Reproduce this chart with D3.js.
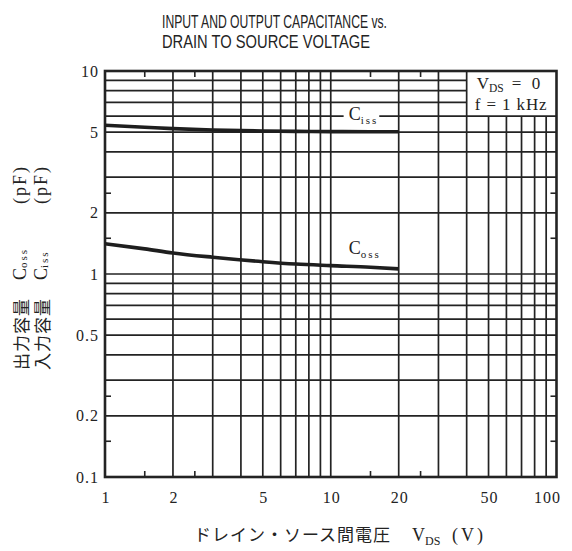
<!DOCTYPE html>
<html><head><meta charset="utf-8">
<script src="https://cdn.jsdelivr.net/npm/d3@7"></script>
<style>body{margin:0;background:#fff}svg{display:block}</style>
</head><body>
<script>
// ---- data ----
const titleLines = ["INPUT AND OUTPUT CAPACITANCE vs.", "DRAIN TO SOURCE VOLTAGE"];
const vds  = [1, 1.5, 2, 3, 5, 7, 10, 15, 20];
const ciss = [5.40, 5.28, 5.20, 5.12, 5.06, 5.04, 5.03, 5.02, 5.02];
const coss = [1.41, 1.33, 1.27, 1.21, 1.15, 1.12, 1.10, 1.08, 1.06];
const xTickLabels = [1, 2, 5, 10, 20, 50, 100];
const yTickLabels = [0.1, 0.2, 0.5, 1, 2, 5, 10];
const xGridValues = [2,3,4,5,6,7,8,9,10,20,30,40,50,60,70,80,90];
const yGridValues = [0.2,0.3,0.4,0.5,0.6,0.7,0.8,0.9,1,2,3,4,5,6,7,8,9];
const xMinor = [1.5, 2.5, 15, 25];
const yMinor = [0.15, 0.25, 1.5, 2.5];
const legendBoxX = [40, 100];
const legendBoxY = [6, 10];
const legendLines = ["V_DS = 0", "f = 1 kHz"];

// ---- drawing ----
const W = 572, H = 551;
const ink = "#232323";
const serif = "Liberation Serif, Times New Roman, serif";
const cjk = "Noto Sans CJK JP, sans-serif";
const svg = d3.select("body").append("svg").attr("width", W).attr("height", H);
svg.append("rect").attr("width", W).attr("height", H).attr("fill", "#fff");

const x = d3.scaleLog().domain([1, 100]).range([105, 556.5]);
const y = d3.scaleLog().domain([0.1, 10]).range([477, 71]);

// title
svg.selectAll("text.title").data(titleLines).join("text")
  .attr("x", 162).attr("y", (d, i) => 27.5 + i * 20)
  .attr("textLength", (d, i) => i === 0 ? 225 : 208)
  .attr("lengthAdjust", "spacingAndGlyphs")
  .attr("font-family", "Liberation Sans, Arial, sans-serif")
  .attr("font-size", 19).attr("fill", ink).text(d => d);

const grid = svg.append("g").attr("stroke", ink).attr("stroke-width", 1.7);
grid.selectAll("line.v").data(xGridValues).join("line")
  .attr("x1", d => x(d)).attr("x2", d => x(d))
  .attr("y1", y(0.1))
  .attr("y2", d => d >= legendBoxX[0] ? y(legendBoxY[0]) : y(10));
grid.selectAll("line.h").data(yGridValues).join("line")
  .attr("y1", d => y(d)).attr("y2", d => y(d))
  .attr("x1", x(1))
  .attr("x2", d => d > legendBoxY[0] ? x(legendBoxX[0]) : x(100));
grid.append("line").attr("x1", x(legendBoxX[0])).attr("x2", x(legendBoxX[0]))
  .attr("y1", y(legendBoxY[0])).attr("y2", y(legendBoxY[1]));

// minor ticks
const tl = 6;
const ticks = svg.append("g").attr("stroke", ink).attr("stroke-width", 1.6);
xMinor.forEach(v => {
  ticks.append("line").attr("x1", x(v)).attr("x2", x(v)).attr("y1", y(10)).attr("y2", y(10) + tl);
  ticks.append("line").attr("x1", x(v)).attr("x2", x(v)).attr("y1", y(0.1)).attr("y2", y(0.1) - tl);
});
yMinor.forEach(v => {
  ticks.append("line").attr("x1", x(1)).attr("x2", x(1) + tl).attr("y1", y(v)).attr("y2", y(v));
  ticks.append("line").attr("x1", x(100)).attr("x2", x(100) - tl).attr("y1", y(v)).attr("y2", y(v));
});

// frame
svg.append("rect").attr("x", x(1)).attr("y", y(10))
  .attr("width", x(100) - x(1)).attr("height", y(0.1) - y(10))
  .attr("fill", "none").attr("stroke", ink).attr("stroke-width", 2.6);

// curves
const line = d3.line().x((d, i) => x(vds[i])).y(d => y(d)).curve(d3.curveMonotoneX);
[ciss, coss].forEach(s => {
  svg.append("path").attr("d", line(s)).attr("fill", "none")
    .attr("stroke", "#1e1e1e").attr("stroke-width", 3.6).attr("stroke-linecap", "butt");
});

// curve labels
function subLabel(g, xx, yy, main, sub, fs, sfs) {
  const t = g.append("text").attr("x", xx).attr("y", yy)
    .attr("font-family", serif).attr("font-size", fs).attr("fill", ink);
  t.append("tspan").text(main);
  t.append("tspan").attr("dy", 4).attr("font-size", sfs).attr("letter-spacing", 2).text(sub);
  return t;
}
const lg = svg.append("g");
const cissBg = lg.append("rect").attr("fill", "#fff");
const cissLab = subLabel(lg, x(12), y(6) + 4, "C", "iss", 18, 11);
const bb = cissLab.node().getBBox();
cissBg.attr("x", bb.x - 5).attr("y", y(6) - 3).attr("width", bb.width + 6).attr("height", 6);
subLabel(lg, x(12), y(1.25), "C", "oss", 18, 11);

// legend
const leg = svg.append("g").attr("font-family", serif).attr("font-size", 17).attr("fill", ink);
const l1 = leg.append("text").attr("x", x(legendBoxX[0]) + 10).attr("y", y(legendBoxY[1]) + 18);
l1.append("tspan").text("V");
l1.append("tspan").attr("font-size", 11.5).attr("dy", 3).text("DS");
l1.append("tspan").attr("dy", -3).attr("x", x(legendBoxX[0]) + 45).text("=");
l1.append("tspan").attr("x", x(legendBoxX[0]) + 65).text("0");
leg.append("text").attr("x", x(legendBoxX[0]) + 8).attr("y", y(legendBoxY[0]) - 6)
  .attr("textLength", 72).text(legendLines[1]);

// tick labels
svg.append("g").selectAll("text").data(yTickLabels).join("text")
  .attr("x", 99).attr("y", d => y(d)).attr("dy", "0.35em")
  .attr("text-anchor", "end").attr("font-family", serif).attr("font-size", 16)
  .attr("letter-spacing", 1).attr("fill", ink).text(d => d);
svg.append("g").selectAll("text").data(xTickLabels).join("text")
  .attr("x", d => x(d) + (d === 100 ? -9 : 1)).attr("y", 503)
  .attr("text-anchor", "middle").attr("font-family", serif).attr("font-size", 16)
  .attr("letter-spacing", 1).attr("fill", ink).text(d => d);

// x title
const xt = svg.append("text").attr("y", 541).attr("fill", ink);
xt.append("tspan").attr("x", 194).attr("font-family", cjk)
  .attr("font-size", 17).attr("textLength", 196).text("ドレイン・ソース間電圧");
xt.append("tspan").attr("x", 412).attr("font-family", serif).attr("font-size", 18).text("V");
xt.append("tspan").attr("font-family", serif).attr("font-size", 12).attr("dy", 4).text("DS");
xt.append("tspan").attr("x", 452).attr("dy", -4).attr("font-family", serif).attr("font-size", 18)
  .attr("letter-spacing", 3).text("(V)");

// y title (rotated)
function yTitle(cx, jp, sub) {
  const t = svg.append("text").attr("transform", `translate(${cx},370) rotate(-90)`)
    .attr("fill", ink).attr("dominant-baseline", "central");
  t.append("tspan").attr("font-family", cjk).attr("font-size", 17)
    .attr("letter-spacing", 1).text(jp);
  t.append("tspan").attr("x", 90).attr("font-family", serif).attr("font-size", 18).text("C");
  t.append("tspan").attr("font-family", serif).attr("font-size", 11).attr("dy", 3)
    .attr("letter-spacing", 2).text(sub);
  t.append("tspan").attr("x", 166).attr("dy", -3).attr("font-family", serif).attr("font-size", 18)
    .attr("letter-spacing", 2).text("(pF)");
}
yTitle(20, "出力容量", "oss");
yTitle(41, "入力容量", "iss");
</script>
</body></html>
